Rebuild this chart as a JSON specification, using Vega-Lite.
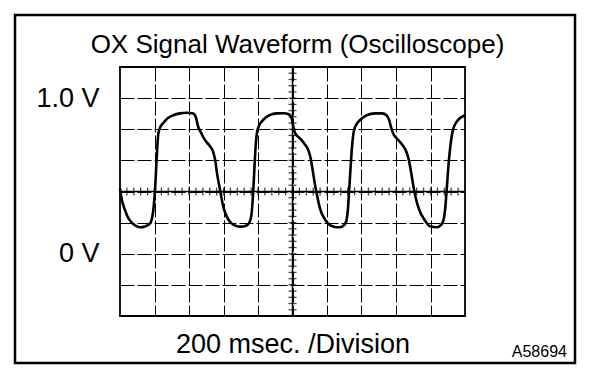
{
  "$schema": "https://vega.github.io/schema/vega-lite/v6.json",
  "width": 345,
  "height": 249,
  "autosize": {"type": "none"},
  "padding": {"left": 120, "top": 67, "right": 143, "bottom": 70},
  "background": "white",
  "config": {
    "view": {"stroke": "black", "strokeWidth": 1.8},
    "font": "Liberation Sans"
  },
  "title": {
    "text": "OX Signal Waveform (Oscilloscope)",
    "font": "Liberation Sans",
    "fontSize": 26,
    "fontWeight": "normal",
    "color": "black",
    "anchor": "middle",
    "frame": "group",
    "dx": 5,
    "baseline": "alphabetic",
    "offset": -65
  },
  "datasets": {
    "wave": [
      {"t": 0, "v": 0.42}, {"t": 10, "v": 0.35}, {"t": 29, "v": 0.28}, {"t": 45, "v": 0.235}, {"t": 68, "v": 0.2},
      {"t": 90, "v": 0.18}, {"t": 116, "v": 0.17}, {"t": 145, "v": 0.175}, {"t": 174, "v": 0.195}, {"t": 186, "v": 0.23},
      {"t": 193, "v": 0.28}, {"t": 203, "v": 0.41}, {"t": 213, "v": 0.62}, {"t": 222, "v": 0.77}, {"t": 234, "v": 0.815},
      {"t": 251, "v": 0.84}, {"t": 275, "v": 0.87}, {"t": 309, "v": 0.89}, {"t": 348, "v": 0.902}, {"t": 387, "v": 0.906},
      {"t": 420, "v": 0.903}, {"t": 435, "v": 0.89}, {"t": 444, "v": 0.86}, {"t": 452, "v": 0.82}, {"t": 464, "v": 0.79},
      {"t": 493, "v": 0.73}, {"t": 522, "v": 0.69}, {"t": 540, "v": 0.655}, {"t": 552, "v": 0.6}, {"t": 562, "v": 0.52},
      {"t": 580, "v": 0.41}, {"t": 595, "v": 0.32}, {"t": 609, "v": 0.265}, {"t": 628, "v": 0.22}, {"t": 647, "v": 0.195},
      {"t": 670, "v": 0.18}, {"t": 700, "v": 0.174}, {"t": 730, "v": 0.18}, {"t": 750, "v": 0.2}, {"t": 762, "v": 0.25},
      {"t": 770, "v": 0.36}, {"t": 777, "v": 0.5}, {"t": 784, "v": 0.65}, {"t": 793, "v": 0.77}, {"t": 805, "v": 0.82},
      {"t": 821, "v": 0.849}, {"t": 845, "v": 0.875}, {"t": 870, "v": 0.892}, {"t": 908, "v": 0.902}, {"t": 950, "v": 0.903},
      {"t": 978, "v": 0.896}, {"t": 994, "v": 0.875}, {"t": 1004, "v": 0.82}, {"t": 1015, "v": 0.775}, {"t": 1043, "v": 0.742},
      {"t": 1070, "v": 0.705}, {"t": 1090, "v": 0.67}, {"t": 1104, "v": 0.62}, {"t": 1115, "v": 0.55}, {"t": 1128, "v": 0.46},
      {"t": 1140, "v": 0.388}, {"t": 1159, "v": 0.292}, {"t": 1188, "v": 0.221}, {"t": 1210, "v": 0.19}, {"t": 1240, "v": 0.174},
      {"t": 1275, "v": 0.17}, {"t": 1300, "v": 0.185}, {"t": 1312, "v": 0.21}, {"t": 1320, "v": 0.27}, {"t": 1328, "v": 0.4},
      {"t": 1337, "v": 0.56}, {"t": 1346, "v": 0.7}, {"t": 1356, "v": 0.79}, {"t": 1370, "v": 0.83}, {"t": 1391, "v": 0.859},
      {"t": 1430, "v": 0.89}, {"t": 1478, "v": 0.902}, {"t": 1520, "v": 0.902}, {"t": 1545, "v": 0.89}, {"t": 1560, "v": 0.86},
      {"t": 1572, "v": 0.81}, {"t": 1585, "v": 0.77}, {"t": 1613, "v": 0.731}, {"t": 1640, "v": 0.695}, {"t": 1660, "v": 0.655},
      {"t": 1675, "v": 0.6}, {"t": 1688, "v": 0.52}, {"t": 1700, "v": 0.44}, {"t": 1712, "v": 0.37}, {"t": 1735, "v": 0.281},
      {"t": 1768, "v": 0.213}, {"t": 1797, "v": 0.176}, {"t": 1836, "v": 0.17}, {"t": 1862, "v": 0.185}, {"t": 1876, "v": 0.22},
      {"t": 1886, "v": 0.3}, {"t": 1895, "v": 0.43}, {"t": 1905, "v": 0.58}, {"t": 1915, "v": 0.69}, {"t": 1929, "v": 0.79},
      {"t": 1952, "v": 0.849}, {"t": 1975, "v": 0.875}, {"t": 2000, "v": 0.888}
    ],
    "xticks": [
      {"t": 40}, {"t": 80}, {"t": 120}, {"t": 160}, {"t": 200}, {"t": 240}, {"t": 280}, {"t": 320}, {"t": 360}, {"t": 400},
      {"t": 440}, {"t": 480}, {"t": 520}, {"t": 560}, {"t": 600}, {"t": 640}, {"t": 680}, {"t": 720}, {"t": 760}, {"t": 800},
      {"t": 840}, {"t": 880}, {"t": 920}, {"t": 960}, {"t": 1000}, {"t": 1040}, {"t": 1080}, {"t": 1120}, {"t": 1160}, {"t": 1200},
      {"t": 1240}, {"t": 1280}, {"t": 1320}, {"t": 1360}, {"t": 1400}, {"t": 1440}, {"t": 1480}, {"t": 1520}, {"t": 1560}, {"t": 1600},
      {"t": 1640}, {"t": 1680}, {"t": 1720}, {"t": 1760}, {"t": 1800}, {"t": 1840}, {"t": 1880}, {"t": 1920}, {"t": 1960}
    ],
    "yticks": [
      {"v": -0.36}, {"v": -0.32}, {"v": -0.28}, {"v": -0.24}, {"v": -0.2}, {"v": -0.16}, {"v": -0.12}, {"v": -0.08}, {"v": -0.04}, {"v": 0},
      {"v": 0.04}, {"v": 0.08}, {"v": 0.12}, {"v": 0.16}, {"v": 0.2}, {"v": 0.24}, {"v": 0.28}, {"v": 0.32}, {"v": 0.36}, {"v": 0.4},
      {"v": 0.44}, {"v": 0.48}, {"v": 0.52}, {"v": 0.56}, {"v": 0.6}, {"v": 0.64}, {"v": 0.68}, {"v": 0.72}, {"v": 0.76}, {"v": 0.8},
      {"v": 0.84}, {"v": 0.88}, {"v": 0.92}, {"v": 0.96}, {"v": 1}, {"v": 1.04}, {"v": 1.08}, {"v": 1.12}, {"v": 1.16}
    ]
  },
  "layer": [
    {
      "data": {"name": "wave"},
      "mark": {"type": "line", "color": "black", "strokeWidth": 2.6, "interpolate": "monotone"},
      "encoding": {
        "x": {
          "field": "t", "type": "quantitative",
          "scale": {"domain": [0, 2000], "nice": false, "zero": false},
          "axis": {
            "values": [200, 400, 600, 800, 1000, 1200, 1400, 1600, 1800],
            "grid": true,
            "gridColor": "black",
            "gridOpacity": 1,
            "gridWidth": 1,
            "gridDash": [14, 3],
            "ticks": false,
            "labels": false,
            "domain": false,
            "title": "200 msec. /Division",
            "titleFont": "Liberation Sans",
            "titleFontSize": 27,
            "titleFontWeight": "normal",
            "titleColor": "black",
            "titleBaseline": "alphabetic",
            "titlePadding": 36
          }
        },
        "y": {
          "field": "v", "type": "quantitative",
          "scale": {"domain": [-0.4, 1.2], "nice": false, "zero": false},
          "axis": {
            "values": [-0.2, 0, 0.2, 0.4, 0.6, 0.8, 1],
            "grid": true,
            "gridColor": "black",
            "gridOpacity": 1,
            "gridWidth": 1,
            "gridDash": [14, 3],
            "ticks": false,
            "domain": false,
            "labelExpr": "datum.value == 1 ? '1.0 V' : (datum.value == 0 ? '0 V' : '')",
            "labelFont": "Liberation Sans",
            "labelFontSize": 27,
            "labelColor": "black",
            "labelPadding": 21,
            "labelOverlap": false,
            "labelFlush": false,
            "labelBaseline": "middle",
            "title": null
          }
        }
      }
    },
    {
      "data": {"name": "xticks"},
      "mark": {"type": "tick", "orient": "vertical", "color": "black", "thickness": 1.3, "size": 8},
      "encoding": {
        "x": {"field": "t", "type": "quantitative"},
        "y": {"datum": 0.4, "type": "quantitative"}
      }
    },
    {
      "data": {"name": "yticks"},
      "mark": {"type": "tick", "orient": "horizontal", "color": "black", "thickness": 1.3, "size": 8},
      "encoding": {
        "y": {"field": "v", "type": "quantitative"},
        "x": {"datum": 1000, "type": "quantitative"}
      }
    },
    {
      "data": {"values": [{}]},
      "mark": {"type": "rule", "color": "black", "strokeWidth": 1.5},
      "encoding": {
        "x": {"datum": 1000, "type": "quantitative"}
      }
    },
    {
      "data": {"values": [{}]},
      "mark": {"type": "rule", "color": "black", "strokeWidth": 1.5},
      "encoding": {
        "y": {"datum": 0.4, "type": "quantitative"}
      }
    },
    {
      "data": {"values": [{}]},
      "mark": {"type": "rect", "filled": false, "color": "black", "strokeWidth": 2.5},
      "encoding": {
        "x": {"datum": -608.7, "type": "quantitative"},
        "x2": {"datum": 2637.7},
        "y": {"datum": 1.534, "type": "quantitative"},
        "y2": {"datum": -0.702}
      }
    },
    {
      "data": {"values": [{"label": "A58694"}]},
      "mark": {"type": "text", "align": "right", "baseline": "alphabetic", "fontSize": 16, "font": "Liberation Sans", "color": "black"},
      "encoding": {
        "x": {"datum": 2591, "type": "quantitative"},
        "y": {"datum": -0.6635, "type": "quantitative"},
        "text": {"field": "label", "type": "nominal"}
      }
    }
  ]
}
